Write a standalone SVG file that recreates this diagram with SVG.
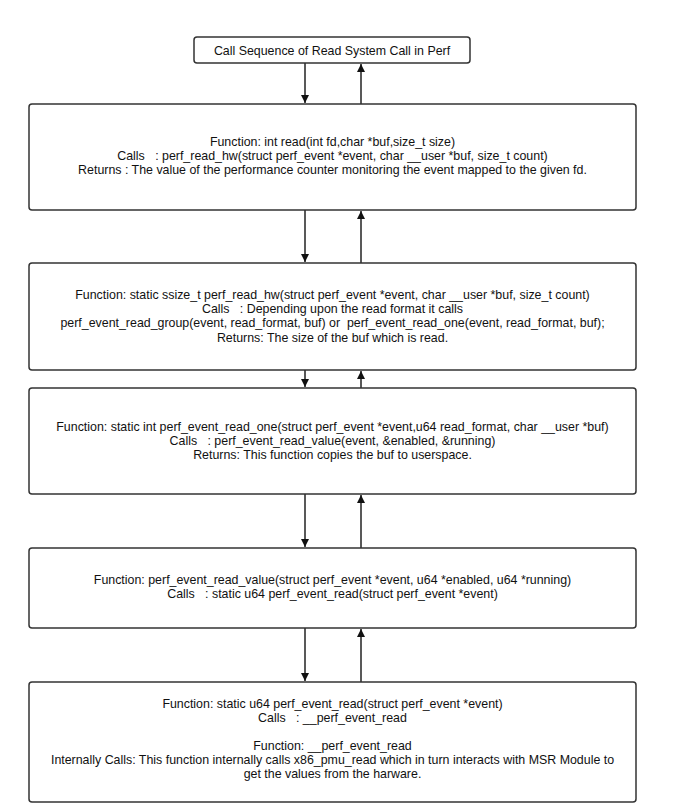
<svg xmlns="http://www.w3.org/2000/svg" width="680" height="810" viewBox="0 0 680 810">
<style>
.box{fill:#fff;stroke:#333;stroke-width:1.5}
.t{font-family:"Liberation Sans",Arial,sans-serif;font-size:12.4px;fill:#111;text-anchor:middle;white-space:pre}
.tt{font-family:"Liberation Sans",Arial,sans-serif;font-size:12.4px;fill:#111;text-anchor:middle}
.c{stroke:#222;stroke-width:1.5;fill:none}
</style>
<defs>
<marker id="ah" viewBox="0 0 10 10" refX="10" refY="5" markerWidth="8" markerHeight="8" markerUnits="userSpaceOnUse" orient="auto">
<path d="M0,0 L10,5 L0,10 Z" fill="#111"/>
</marker>
</defs>
<rect width="680" height="810" fill="#fff"/>
<g id="connectors">
<line class="c" x1="305" y1="63" x2="305" y2="103" marker-end="url(#ah)"/>
<line class="c" x1="361" y1="104" x2="361" y2="64" marker-end="url(#ah)"/>
<line class="c" x1="305" y1="210" x2="305" y2="262" marker-end="url(#ah)"/>
<line class="c" x1="361" y1="263" x2="361" y2="211" marker-end="url(#ah)"/>
<line class="c" x1="305" y1="370" x2="305" y2="387" marker-end="url(#ah)"/>
<line class="c" x1="361" y1="388" x2="361" y2="371" marker-end="url(#ah)"/>
<line class="c" x1="305" y1="494" x2="305" y2="547" marker-end="url(#ah)"/>
<line class="c" x1="361" y1="548" x2="361" y2="495" marker-end="url(#ah)"/>
<line class="c" x1="305" y1="628" x2="305" y2="681" marker-end="url(#ah)"/>
<line class="c" x1="361" y1="682" x2="361" y2="629" marker-end="url(#ah)"/>
</g>
<g id="title">
<rect class="box" x="194" y="37" width="276" height="26" rx="3"/>
<text class="tt" x="332" y="54.5">Call Sequence of Read System Call in Perf</text>
</g>
<g id="read">
<rect class="box" x="29" y="104" width="607" height="106" rx="3"/>
<text class="t" x="332.5" y="146">Function: int read(int fd,char *buf,size_t size)</text>
<text class="t" x="332.5" y="160">Calls   : perf_read_hw(struct perf_event *event, char __user *buf, size_t count)</text>
<text class="t" x="332.5" y="174">Returns : The value of the performance counter monitoring the event mapped to the given fd.</text>
</g>
<g id="perf_read_hw">
<rect class="box" x="29" y="263" width="607" height="107" rx="3"/>
<text class="t" x="332.5" y="298.5">Function: static ssize_t perf_read_hw(struct perf_event *event, char __user *buf, size_t count)</text>
<text class="t" x="332.5" y="312.5">Calls   : Depending upon the read format it calls</text>
<text class="t" x="332.5" y="327">perf_event_read_group(event, read_format, buf) or  perf_event_read_one(event, read_format, buf);</text>
<text class="t" x="332.5" y="341.5">Returns: The size of the buf which is read.</text>
</g>
<g id="perf_event_read_one">
<rect class="box" x="29" y="388" width="607" height="106" rx="3"/>
<text class="t" x="332.5" y="430.5">Function: static int perf_event_read_one(struct perf_event *event,u64 read_format, char __user *buf)</text>
<text class="t" x="332.5" y="444.5">Calls   : perf_event_read_value(event, &amp;enabled, &amp;running)</text>
<text class="t" x="332.5" y="458.5">Returns: This function copies the buf to userspace.</text>
</g>
<g id="perf_event_read_value">
<rect class="box" x="29" y="548" width="607" height="80" rx="3"/>
<text class="t" x="332.5" y="583.5">Function: perf_event_read_value(struct perf_event *event, u64 *enabled, u64 *running)</text>
<text class="t" x="332.5" y="597.5">Calls   : static u64 perf_event_read(struct perf_event *event)</text>
</g>
<g id="perf_event_read">
<rect class="box" x="29" y="682" width="607" height="120" rx="3"/>
<text class="t" x="332.5" y="707.5">Function: static u64 perf_event_read(struct perf_event *event)</text>
<text class="t" x="332.5" y="721.5">Calls   : __perf_event_read</text>
<text class="t" x="332.5" y="749.5">Function: __perf_event_read</text>
<text class="t" x="332.5" y="763.5">Internally Calls: This function internally calls x86_pmu_read which in turn interacts with MSR Module to</text>
<text class="t" x="332.5" y="777.5">get the values from the harware.</text>
</g>
</svg>
